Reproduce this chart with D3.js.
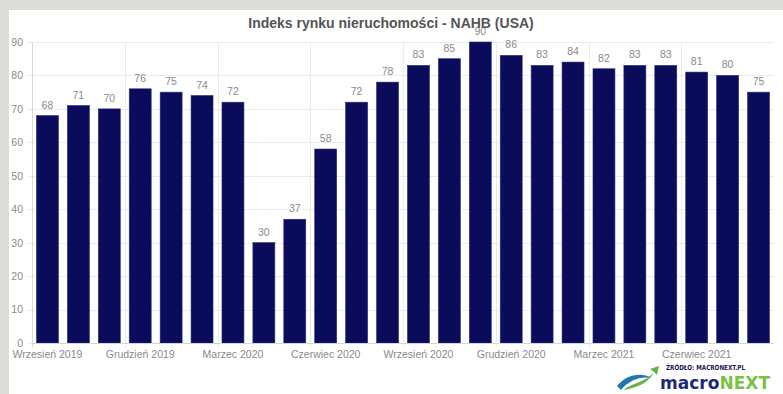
<!DOCTYPE html>
<html><head><meta charset="utf-8">
<script src="https://cdn.jsdelivr.net/npm/d3@7"></script>
<style>
html,body{margin:0;padding:0;background:#dcdcd8;}
svg{display:block;}
</style></head>
<body>
<svg id="chart" width="783" height="394"></svg>
<script>
const months = ["Wrzesień 2019","Październik 2019","Listopad 2019","Grudzień 2019","Styczeń 2020","Luty 2020","Marzec 2020","Kwiecień 2020","Maj 2020","Czerwiec 2020","Lipiec 2020","Sierpień 2020","Wrzesień 2020","Październik 2020","Listopad 2020","Grudzień 2020","Styczeń 2021","Luty 2021","Marzec 2021","Kwiecień 2021","Maj 2021","Czerwiec 2021","Lipiec 2021","Sierpień 2021"];
const values = [68,71,70,76,75,74,72,30,37,58,72,78,83,85,90,86,83,84,82,83,83,81,80,75];
const yTicks = [0,10,20,30,40,50,60,70,80,90];
const xTickLabels = ["Wrzesień 2019","Grudzień 2019","Marzec 2020","Czerwiec 2020","Wrzesień 2020","Grudzień 2020","Marzec 2021","Czerwiec 2021"];
const title = "Indeks rynku nieruchomości - NAHB (USA)";

(function(){
const svg = d3.select("#chart");
svg.append("rect").attr("x",9).attr("y",10).attr("width",774).attr("height",384).attr("fill","#ffffff");

const pL = 32, pR = 774, pT = 42, pB = 343;
const x = d3.scaleBand().domain(months).range([pL,pR]).paddingInner(0.29).paddingOuter(0.145);
const y = d3.scaleLinear().domain([0,90]).range([pB,pT]);

// horizontal gridlines
svg.append("g").selectAll("line").data(yTicks).join("line")
  .attr("x1",pL-5).attr("x2",pR).attr("y1",d=>Math.round(y(d))+0.5).attr("y2",d=>Math.round(y(d))+0.5)
  .attr("stroke","#ebebeb").attr("stroke-width",1);

// vertical gridlines at every 3rd band boundary
const step = x.step();
const vIdx = months.map((m,i)=>i).filter(i=>i%3===0);
svg.append("g").selectAll("line").data(vIdx).join("line")
  .attr("x1",i=>Math.round(pL+i*step)+0.5).attr("x2",i=>Math.round(pL+i*step)+0.5)
  .attr("y1",pT).attr("y2",pB+4)
  .attr("stroke",(i)=>i===0?"#d8d8d8":"#ebebeb");

// y axis labels
const yAxis = d3.axisLeft(y).tickValues(yTicks).tickSize(0).tickPadding(9);
const gy = svg.append("g").attr("transform",`translate(${pL},0)`).call(yAxis);
gy.select(".domain").remove();
gy.selectAll("text").attr("fill","#8a8a8a").style("font-family","Liberation Sans, Arial, sans-serif").style("font-size","10.5px");

// bars
svg.append("g").selectAll("rect").data(values).join("rect")
  .attr("x",(d,i)=>x(months[i])).attr("width",x.bandwidth())
  .attr("y",d=>y(d)).attr("height",d=>pB-y(d))
  .attr("fill","#0b0b5c").attr("stroke","#2a2a72").attr("stroke-width",0.6);

// x axis line
svg.append("line").attr("x1",pL).attr("x2",pR).attr("y1",pB+0.5).attr("y2",pB+0.5).attr("stroke","#d4d4d4");

// x labels
const xAxis = d3.axisBottom(x).tickValues(xTickLabels).tickSize(0).tickPadding(8);
const gx = svg.append("g").attr("transform",`translate(0,${pB})`).call(xAxis);
gx.select(".domain").remove();
gx.selectAll("text").attr("fill","#8a8a8a").style("font-family","Liberation Sans, Arial, sans-serif").style("font-size","10.5px");

// value labels
svg.append("g").selectAll("text").data(values).join("text")
  .attr("x",(d,i)=>x(months[i])+x.bandwidth()/2).attr("y",d=>y(d)-7)
  .attr("text-anchor","middle").attr("fill","#8a8a8a")
  .style("font-family","Liberation Sans, Arial, sans-serif").style("font-size","10.5px")
  .text(d=>d);

// title
svg.append("text").attr("x",391).attr("y",28).attr("text-anchor","middle")
  .attr("fill","#555555").style("font-family","Liberation Sans, Arial, sans-serif")
  .style("font-size","14px").style("font-weight","bold").text(title);

// logo
const logo = svg.append("g");
logo.append("path").attr("d","M617,386 C627,374 641,372 652,378 C641,376 629,380 621,390 Z").attr("fill","#1f77b4");
logo.append("path").attr("d","M623,390 C634,382 646,382 654,372 L650,369 L659,366 L657,375 L654,372 C648,384 636,388 623,390 Z").attr("fill","#6ab04c");
logo.append("text").attr("x",666).attr("y",370).attr("fill","#1a1a5a")
  .style("font-family","Liberation Sans Narrow, DejaVu Sans Condensed, Arial, sans-serif")
  .style("font-size","7px").style("font-weight","bold")
  .attr("textLength",79).attr("lengthAdjust","spacingAndGlyphs").text("ŹRÓDŁO: MACRONEXT.PL");
const lt = logo.append("text").attr("x",660).attr("y",389)
  .style("font-family","Liberation Sans Narrow, DejaVu Sans Condensed, Arial, sans-serif")
  .style("font-size","18px").style("font-weight","bold")
  .attr("textLength",110).attr("lengthAdjust","spacingAndGlyphs");
lt.append("tspan").attr("fill","#1d2a78").text("macro");
lt.append("tspan").attr("fill","#7cc242").text("NEXT");
})();
</script>
</body></html>
